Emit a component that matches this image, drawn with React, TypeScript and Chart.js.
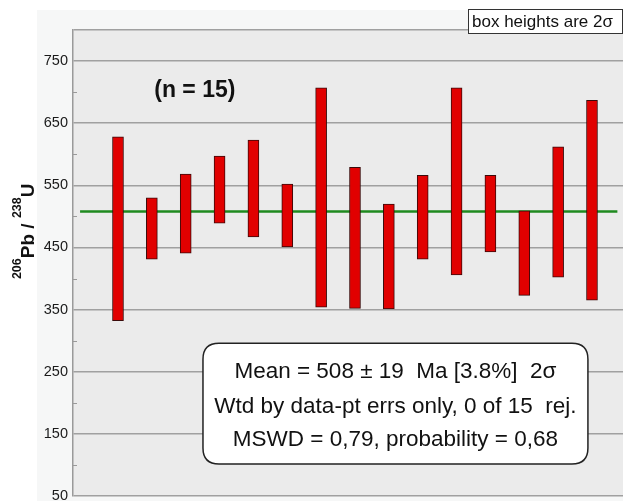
import React, { useEffect, useRef } from "react";
import { Chart, registerables } from "chart.js";

Chart.register(...registerables);

// ---- data ----
const grainIndex = [1, 2, 3, 4, 5, 6, 7, 8, 9, 10, 11, 12, 13, 14, 15];
const lowValues = [332, 431, 441, 489, 467, 451, 354, 352, 351, 431, 406, 443, 373, 402, 365];
const highValues = [628, 530, 568, 597, 623, 552, 707, 579, 520, 566, 707, 566, 509, 612, 687];
const meanAge = 508;
const yTickValues = [50, 150, 250, 350, 450, 550, 650, 750];
const nLabel = "(n = 15)";
const boxNote = "box heights are 2σ";
const statLines = [
  "Mean = 508 ± 19  Ma [3.8%]  2σ",
  "Wtd by data-pt errs only, 0 of 15  rej.",
  "MSWD = 0,79, probability = 0,68",
];

const FONT = "'Liberation Sans', Arial, Helvetica, sans-serif";

function roundRect(ctx: CanvasRenderingContext2D, x: number, y: number, w: number, h: number, r: number) {
  ctx.beginPath();
  ctx.moveTo(x + r, y);
  ctx.lineTo(x + w - r, y);
  ctx.quadraticCurveTo(x + w, y, x + w, y + r);
  ctx.lineTo(x + w, y + h - r);
  ctx.quadraticCurveTo(x + w, y + h, x + w - r, y + h);
  ctx.lineTo(x + r, y + h);
  ctx.quadraticCurveTo(x, y + h, x, y + h - r);
  ctx.lineTo(x, y + r);
  ctx.quadraticCurveTo(x, y, x + r, y);
  ctx.closePath();
}

const decorPlugin = {
  id: "decor",
  beforeDraw(chart: any) {
    const { ctx, chartArea } = chart;
    ctx.save();
    ctx.fillStyle = "#ffffff";
    ctx.fillRect(0, 0, chart.width, chart.height);
    ctx.fillStyle = "#f6f7f7";
    ctx.fillRect(chartArea.left - 36, chartArea.top - 20, chart.width, chart.height);
    ctx.fillStyle = "#ebebeb";
    ctx.fillRect(chartArea.left, chartArea.top, chartArea.right - chartArea.left, chartArea.bottom - chartArea.top);
    ctx.restore();
  },
  afterDraw(chart: any) {
    const { ctx, chartArea } = chart;
    const xs = chart.scales.x;
    const ys = chart.scales.y;
    ctx.save();
    // minor inside ticks
    ctx.strokeStyle = "#999999";
    ctx.lineWidth = 1;
    for (let v = 100; v <= 700; v += 100) {
      const py = Math.round(ys.getPixelForValue(v)) + 0.5;
      ctx.beginPath();
      ctx.moveTo(chartArea.left, py);
      ctx.lineTo(chartArea.left + 4, py);
      ctx.stroke();
    }

    // y axis title 206Pb / 238U
    const big = "bold 19px " + FONT;
    const small = "bold 12.5px " + FONT;
    const parts: [string, boolean][] = [
      ["206", true],
      ["Pb", false],
      [" / ", false],
      ["238", true],
      ["U", false],
    ];
    let total = 0;
    for (const [t, s] of parts) {
      ctx.font = s ? small : big;
      total += ctx.measureText(t).width;
    }
    const cy = ys.getPixelForValue(476);
    ctx.translate(34, cy);
    ctx.rotate(-Math.PI / 2);
    ctx.fillStyle = "#111111";
    ctx.textBaseline = "alphabetic";
    ctx.textAlign = "left";
    let px = -total / 2;
    for (const [t, s] of parts) {
      ctx.font = s ? small : big;
      ctx.fillText(t, px, s ? -13 : 0);
      px += ctx.measureText(t).width;
    }
    ctx.setTransform(1, 0, 0, 1, 0, 0);

    // (n = 15)
    ctx.font = "bold 23px " + FONT;
    ctx.fillStyle = "#111111";
    ctx.textAlign = "center";
    ctx.textBaseline = "middle";
    ctx.fillText(nLabel, xs.getPixelForValue(3.27), ys.getPixelForValue(703));

    // box heights note
    ctx.font = "17px " + FONT;
    const nw = 154;
    const nx = chart.width - nw - 1;
    const ny = chartArea.top - 21;
    ctx.fillStyle = "#ffffff";
    ctx.fillRect(nx, ny, nw, 24);
    ctx.strokeStyle = "#333333";
    ctx.lineWidth = 1;
    ctx.strokeRect(nx + 0.5, ny + 0.5, nw, 24);
    ctx.fillStyle = "#111111";
    ctx.textAlign = "left";
    ctx.textBaseline = "middle";
    ctx.fillText(boxNote, nx + 4, ny + 13);

    // stats box
    const bx0 = xs.getPixelForValue(3.51);
    const bx1 = xs.getPixelForValue(14.88);
    const by0 = ys.getPixelForValue(296);
    const by1 = ys.getPixelForValue(101.5);
    roundRect(ctx, bx0, by0, bx1 - bx0, by1 - by0, 16);
    ctx.fillStyle = "#ffffff";
    ctx.fill();
    ctx.strokeStyle = "#222222";
    ctx.lineWidth = 1.5;
    ctx.stroke();
    ctx.fillStyle = "#111111";
    ctx.font = "22.5px " + FONT;
    ctx.textAlign = "center";
    ctx.textBaseline = "middle";
    const cx = (bx0 + bx1) / 2;
    const lineVals = [249.5, 193, 140];
    statLines.forEach((l, i) => ctx.fillText(l, cx, ys.getPixelForValue(lineVals[i])));
    ctx.restore();
  },
};

export default function App() {
  const ref = useRef<HTMLCanvasElement | null>(null);
  useEffect(() => {
    if (!ref.current) return;
    const chart = new Chart(ref.current, {
      type: "bar",
      data: {
        datasets: [
          {
            type: "bar",
            data: grainIndex.map((g, i) => ({ x: g, y: [lowValues[i], highValues[i]] })) as any,
            backgroundColor: "#e10000",
            borderColor: "#3a0a0a",
            borderWidth: 1,
            borderSkipped: false,
            barThickness: 11,
            order: 0,
          } as any,
          {
            type: "line",
            data: [
              { x: -0.12, y: meanAge },
              { x: 15.75, y: meanAge },
            ],
            borderColor: "#1f8a1f",
            borderWidth: 2.5,
            pointRadius: 0,
            order: 1,
          } as any,
        ],
      },
      options: {
        animation: false,
        responsive: false,
        devicePixelRatio: 1,
        layout: { padding: { top: 30, right: 0, bottom: 5, left: 0 } },
        plugins: { legend: { display: false }, tooltip: { enabled: false } },
        scales: {
          x: {
            type: "linear",
            display: false,
            min: -0.329,
            max: 15.916,
            offset: false,
            grid: { offset: false, display: false },
          },
          y: {
            type: "linear",
            min: 50,
            max: 800,
            afterFit: (s: any) => {
              s.width = 73;
              s.paddingTop = 0;
              s.paddingBottom = 0;
            },
            afterBuildTicks: (s: any) => {
              const vals: number[] = [];
              for (let v = 50; v <= 800; v += 50) vals.push(v);
              s.ticks = vals.map((v) => ({ value: v }));
            },
            ticks: {
              padding: 5,
              color: "#1a1a1a",
              font: { family: FONT, size: 14.5 },
              callback: (v: any) => (yTickValues.includes(Number(v)) ? String(v) : ""),
            },
            grid: {
              drawTicks: false,
              lineWidth: 1.5,
              color: (c: any) => {
                const v = c.tick ? c.tick.value : null;
                if (v === null) return "transparent";
                return yTickValues.includes(v) || v === 800 ? "#a0a0a0" : "transparent";
              },
            },
            border: { display: true, color: "#9a9a9a", width: 1.5 },
          },
        },
      } as any,
      plugins: [decorPlugin],
    });
    return () => chart.destroy();
  }, []);
  return (
    <div style={{ position: "fixed", left: 0, top: 0, width: 623, height: 501 }}>
      <canvas ref={ref} width={623} height={501} style={{ width: 623, height: 501, display: "block" }} />
    </div>
  );
}
